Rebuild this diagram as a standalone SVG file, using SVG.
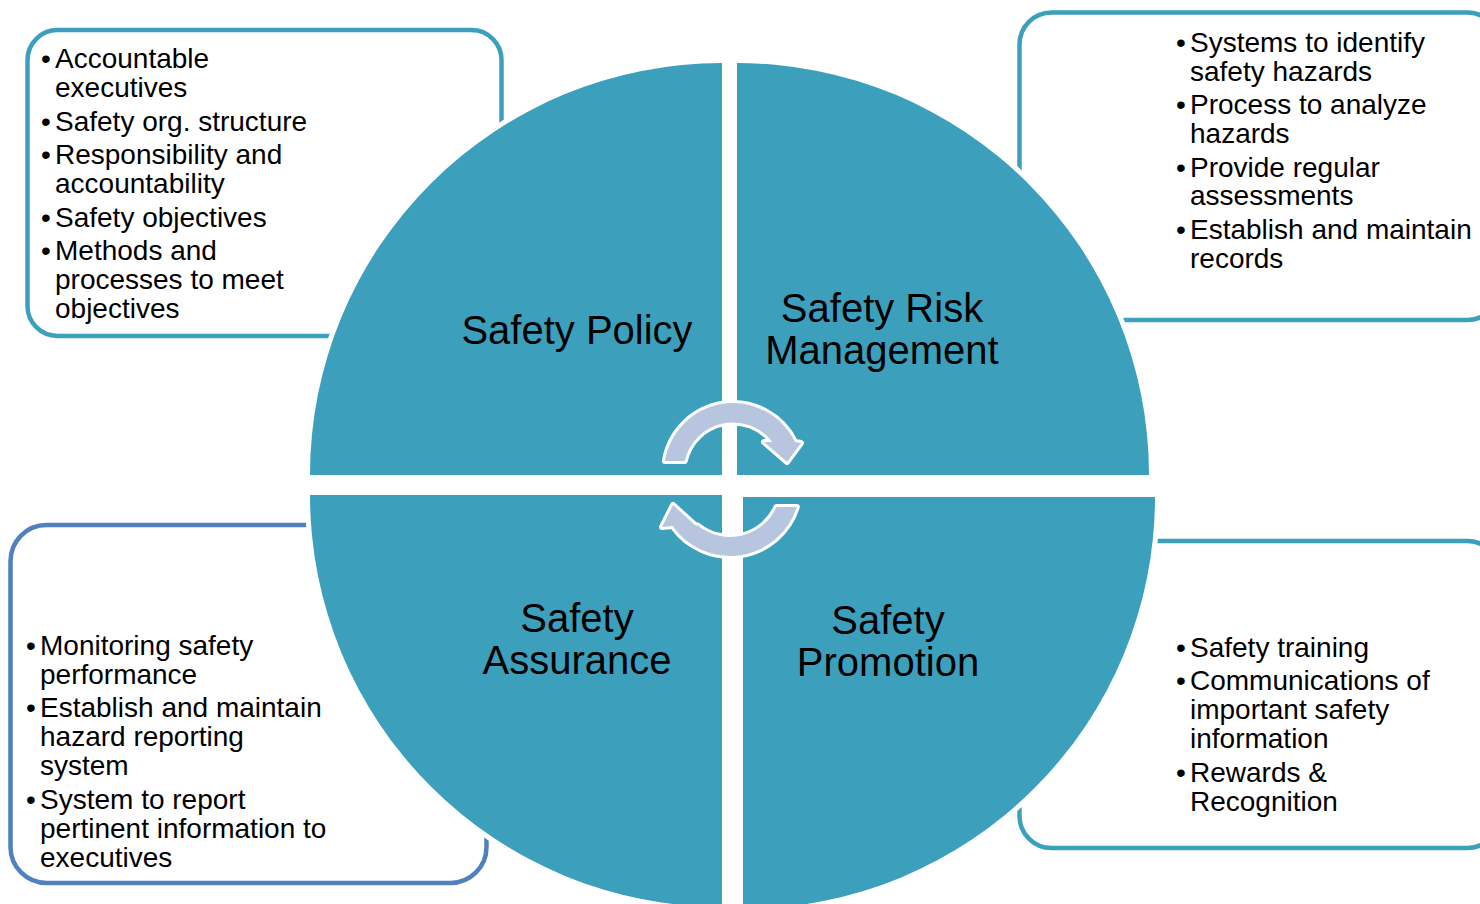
<svg xmlns="http://www.w3.org/2000/svg" width="1480" height="904" viewBox="0 0 1480 904">
  <style>
    .bg { fill: #ffffff; }
    .box { fill: none; stroke-width: 4.5; }
    .teal-line { stroke: #3ca0bd; }
    .blue-line { stroke: #4f81bd; }
    .quad { fill: #3ca0bd; stroke: #ffffff; stroke-width: 10; paint-order: stroke; stroke-linejoin: miter; }
    .item { font-family: "Liberation Sans", Arial, sans-serif; font-size: 28px; fill: #000000; }
    .title { font-family: "Liberation Sans", Arial, sans-serif; font-size: 40px; fill: #000000; text-anchor: middle; }
    .cycle { fill: #b7c5df; stroke: #ffffff; stroke-width: 6; paint-order: stroke; stroke-linejoin: round; }
  </style>

  <rect class="bg" x="0" y="0" width="1480" height="904"/>

  <!-- Detail boxes (drawn first so the quadrants sit on top) -->
  <g id="box-policy">
    <rect class="box teal-line" x="27.5" y="30" width="474" height="306" rx="30" ry="30"/>
    <text class="item">
      <tspan x="41" y="68">•</tspan><tspan x="55" y="68">Accountable</tspan>
      <tspan x="55" y="97">executives</tspan>
      <tspan x="41" y="130.5">•</tspan><tspan x="55" y="130.5">Safety org. structure</tspan>
      <tspan x="41" y="164">•</tspan><tspan x="55" y="164">Responsibility and</tspan>
      <tspan x="55" y="193">accountability</tspan>
      <tspan x="41" y="226.5">•</tspan><tspan x="55" y="226.5">Safety objectives</tspan>
      <tspan x="41" y="260">•</tspan><tspan x="55" y="260">Methods and</tspan>
      <tspan x="55" y="289">processes to meet</tspan>
      <tspan x="55" y="318">objectives</tspan>
    </text>
  </g>

  <g id="box-risk">
    <rect class="box teal-line" x="1019.5" y="12.5" width="480" height="307.5" rx="32" ry="32"/>
    <text class="item">
      <tspan x="1176" y="52">•</tspan><tspan x="1190" y="52">Systems to identify</tspan>
      <tspan x="1190" y="80.5">safety hazards</tspan>
      <tspan x="1176" y="114">•</tspan><tspan x="1190" y="114">Process to analyze</tspan>
      <tspan x="1190" y="143">hazards</tspan>
      <tspan x="1176" y="176.5">•</tspan><tspan x="1190" y="176.5">Provide regular</tspan>
      <tspan x="1190" y="205">assessments</tspan>
      <tspan x="1176" y="239">•</tspan><tspan x="1190" y="239">Establish and maintain</tspan>
      <tspan x="1190" y="268">records</tspan>
    </text>
  </g>

  <g id="box-assurance">
    <rect class="box blue-line" x="10.5" y="525" width="476" height="358" rx="36" ry="36"/>
    <text class="item">
      <tspan x="26" y="654.5">•</tspan><tspan x="40" y="654.5">Monitoring safety</tspan>
      <tspan x="40" y="683.5">performance</tspan>
      <tspan x="26" y="717">•</tspan><tspan x="40" y="717">Establish and maintain</tspan>
      <tspan x="40" y="746">hazard reporting</tspan>
      <tspan x="40" y="775">system</tspan>
      <tspan x="26" y="808.5">•</tspan><tspan x="40" y="808.5">System to report</tspan>
      <tspan x="40" y="837.5">pertinent information to</tspan>
      <tspan x="40" y="866.5">executives</tspan>
    </text>
  </g>

  <g id="box-promotion">
    <rect class="box teal-line" x="1019.5" y="541" width="480" height="307" rx="32" ry="32"/>
    <text class="item">
      <tspan x="1176" y="656.5">•</tspan><tspan x="1190" y="656.5">Safety training</tspan>
      <tspan x="1176" y="690">•</tspan><tspan x="1190" y="690">Communications of</tspan>
      <tspan x="1190" y="719">important safety</tspan>
      <tspan x="1190" y="748">information</tspan>
      <tspan x="1176" y="781.5">•</tspan><tspan x="1190" y="781.5">Rewards &amp;</tspan>
      <tspan x="1190" y="810.5">Recognition</tspan>
    </text>
  </g>

  <!-- Four quarter segments of the central wheel -->
  <g id="quad-policy">
    <path class="quad" d="M722,475 L310,475 A412,412 0 0 1 722,63 Z"/>
    <text class="title" x="577" y="344">Safety Policy</text>
  </g>

  <g id="quad-risk">
    <path class="quad" d="M737,475 L737,63 A412,412 0 0 1 1149,475 Z"/>
    <text class="title"><tspan x="882" y="322">Safety Risk</tspan><tspan x="882" y="364">Management</tspan></text>
  </g>

  <g id="quad-assurance">
    <path class="quad" d="M722,495 L722,907 A412,412 0 0 1 310,495 Z"/>
    <text class="title"><tspan x="577" y="632">Safety</tspan><tspan x="577" y="674">Assurance</tspan></text>
  </g>

  <g id="quad-promotion">
    <path class="quad" d="M743,497 L1155,497 A412,412 0 0 1 743,909 Z"/>
    <text class="title"><tspan x="888" y="634">Safety</tspan><tspan x="888" y="676">Promotion</tspan></text>
  </g>

  <!-- Cycle arrows in the middle of the wheel -->
  <g id="connectors">
    <path class="cycle" d="M684.7,461 L664.9,461 A69,69 0 0 1 795.1,442 L801,443 L787,462 L764,442 L772.4,442 A49.5,49.5 0 0 0 684.7,461 Z"/>
    <path class="cycle" d="M776.5,507 L796.8,507 A70,70 0 0 1 672.6,526 L662,527 L673,505 L695,525 L698.4,526 A51,51 0 0 0 776.5,507 Z"/>
  </g>
</svg>
